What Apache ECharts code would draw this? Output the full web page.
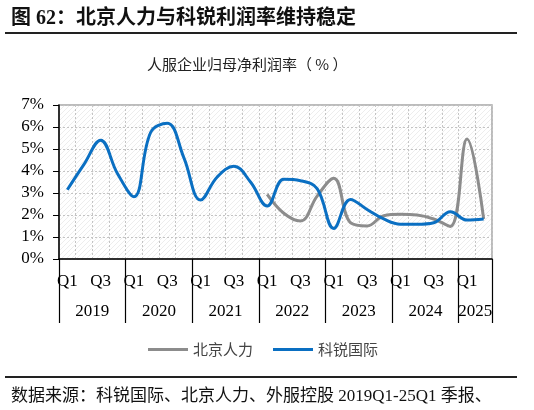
<!DOCTYPE html>
<html>
<head>
<meta charset="utf-8">
<script src="https://cdn.jsdelivr.net/npm/echarts@6/dist/echarts.min.js"></script>
<style>
  html, body { margin: 0; padding: 0; background: #fff; }
  #chart { width: 534px; height: 410px; }
</style>
</head>
<body>
<div id="chart"></div>
<script>
// 季度标签 2019Q1 - 2025Q2
const quarters = [
  'Q1', 'Q2', 'Q3', 'Q4', 'Q1', 'Q2', 'Q3', 'Q4', 'Q1', 'Q2', 'Q3', 'Q4',
  'Q1', 'Q2', 'Q3', 'Q4', 'Q1', 'Q2', 'Q3', 'Q4', 'Q1', 'Q2', 'Q3', 'Q4',
  'Q1', 'Q2'
]
const years = ['2019', '2020', '2021', '2022', '2023', '2024', '2025']

// 归母净利润率（%）
const beijingRenli = [
  null, null, null, null, null, null, null, null, null, null, null, null,
  2.94, 2.08, 1.73, 2.86, 3.67, 1.65, 1.5, 1.97, 2.03, 2.0, 1.82, 1.48,
  5.45, 1.82
]
const keruiGuoji = [
  3.15, 4.3, 5.4, 3.9, 2.83, 5.75, 6.17, 4.6, 2.68, 3.73, 4.22, 3.5,
  2.41, 3.62, 3.56, 3.2, 1.39, 2.71, 2.25, 1.82, 1.58, 1.58, 1.65, 2.15,
  1.77, 1.82
]
const yTicks = [0, 1, 2, 3, 4, 5, 6, 7]

// 年份分组：边界与中点（按季度数计算）
const yearSpans = years.map((y, k) => Math.min(4, quarters.length - 4 * k))
const yearEdges = [0]
yearSpans.forEach(n => yearEdges.push(yearEdges[yearEdges.length - 1] + n))
const yearMids = years.map((y, k) => yearEdges[k] + yearSpans[k] / 2)

// 背景斜纹
const hatch = document.createElement('canvas')
hatch.width = 5
hatch.height = 5
const hctx = hatch.getContext('2d')
hctx.strokeStyle = '#ededed'
hctx.lineWidth = 1
hctx.beginPath()
hctx.moveTo(0, 5); hctx.lineTo(5, 0)
hctx.moveTo(-1, 1); hctx.lineTo(1, -1)
hctx.moveTo(4, 6); hctx.lineTo(6, 4)
hctx.stroke()

const serif = 'Liberation Serif, "Noto Sans CJK SC"'
const cjk = '"Noto Sans CJK SC", sans-serif'
const dotted = { color: '#c4c4c4', type: [2, 2], width: 1 }

const chart = echarts.init(document.getElementById('chart'))
chart.setOption({
  animation: false,
  title: [
    {
      text: '图 62：北京人力与科锐利润率维持稳定',
      left: 6, top: 4,
      textStyle: { fontFamily: serif, fontSize: 20, fontWeight: 'bold', color: '#111' }
    },
    {
      text: '人服企业归母净利润率（ % ）',
      left: 142, top: 52,
      textStyle: { fontFamily: cjk, fontSize: 15, fontWeight: 'normal', color: '#222' }
    },
    {
      text: '数据来源：科锐国际、北京人力、外服控股 2019Q1-25Q1 季报、',
      left: 6, top: 383,
      textStyle: { fontFamily: serif, fontSize: 17, fontWeight: 'normal', color: '#111' }
    }
  ],
  graphic: [
    { type: 'line', shape: { x1: 5, y1: 33, x2: 517, y2: 33 }, style: { stroke: '#222', lineWidth: 2 } },
    { type: 'line', shape: { x1: 5, y1: 377, x2: 517, y2: 377 }, style: { stroke: '#222', lineWidth: 2 } }
  ],
  legend: {
    top: 337,
    left: 143,
    icon: 'rect',
    itemWidth: 40,
    itemHeight: 3,
    itemGap: 20,
    textStyle: { fontFamily: cjk, fontSize: 15, color: '#444' },
    data: ['北京人力', '科锐国际']
  },
  grid: {
    left: 59, right: 42, top: 105, bottom: 151,
    outerBoundsMode: 'none',
    show: true,
    borderColor: '#a6a6a6',
    borderWidth: 1.5,
    backgroundColor: { image: hatch, repeat: 'repeat' }
  },
  xAxis: [
    {
      type: 'category',
      data: quarters,
      boundaryGap: true,
      axisLine: { lineStyle: { color: '#000', width: 1.5 } },
      axisTick: { interval: 0, length: 32, lineStyle: { color: '#000', width: 1.2 } },
      axisLabel: { interval: 1, margin: 14, fontFamily: serif, fontSize: 17, color: '#000' },
      splitLine: { show: true, interval: 0, lineStyle: dotted }
    },
    {
      type: 'value',
      position: 'bottom',
      min: 0,
      max: quarters.length,
      axisLine: { show: false },
      splitLine: { show: false },
      axisTick: { show: true, customValues: yearEdges, length: 64, lineStyle: { color: '#000', width: 1.2 } },
      axisLabel: {
        customValues: yearMids,
        margin: 44,
        fontFamily: serif, fontSize: 17, color: '#000',
        formatter: v => years[yearMids.indexOf(v)]
      }
    }
  ],
  yAxis: {
    type: 'value',
    min: yTicks[0],
    max: yTicks[yTicks.length - 1],
    interval: 1,
    axisLine: { show: true, lineStyle: { color: '#000', width: 1.5 } },
    axisTick: { show: true, length: 6, lineStyle: { color: '#000' } },
    axisLabel: { margin: 15, fontFamily: serif, fontSize: 17, color: '#000', formatter: '{value}%' },
    splitLine: { show: true, lineStyle: dotted }
  },
  series: [
    {
      name: '北京人力',
      type: 'line',
      data: beijingRenli,
      smooth: 0.4,
      symbol: 'none',
      color: '#8c8c8c',
      lineStyle: { width: 3, color: '#8c8c8c' }
    },
    {
      name: '科锐国际',
      type: 'line',
      data: keruiGuoji,
      smooth: 0.4,
      symbol: 'none',
      color: '#0a6fc2',
      lineStyle: { width: 3, color: '#0a6fc2' }
    }
  ]
})
</script>
</body>
</html>
